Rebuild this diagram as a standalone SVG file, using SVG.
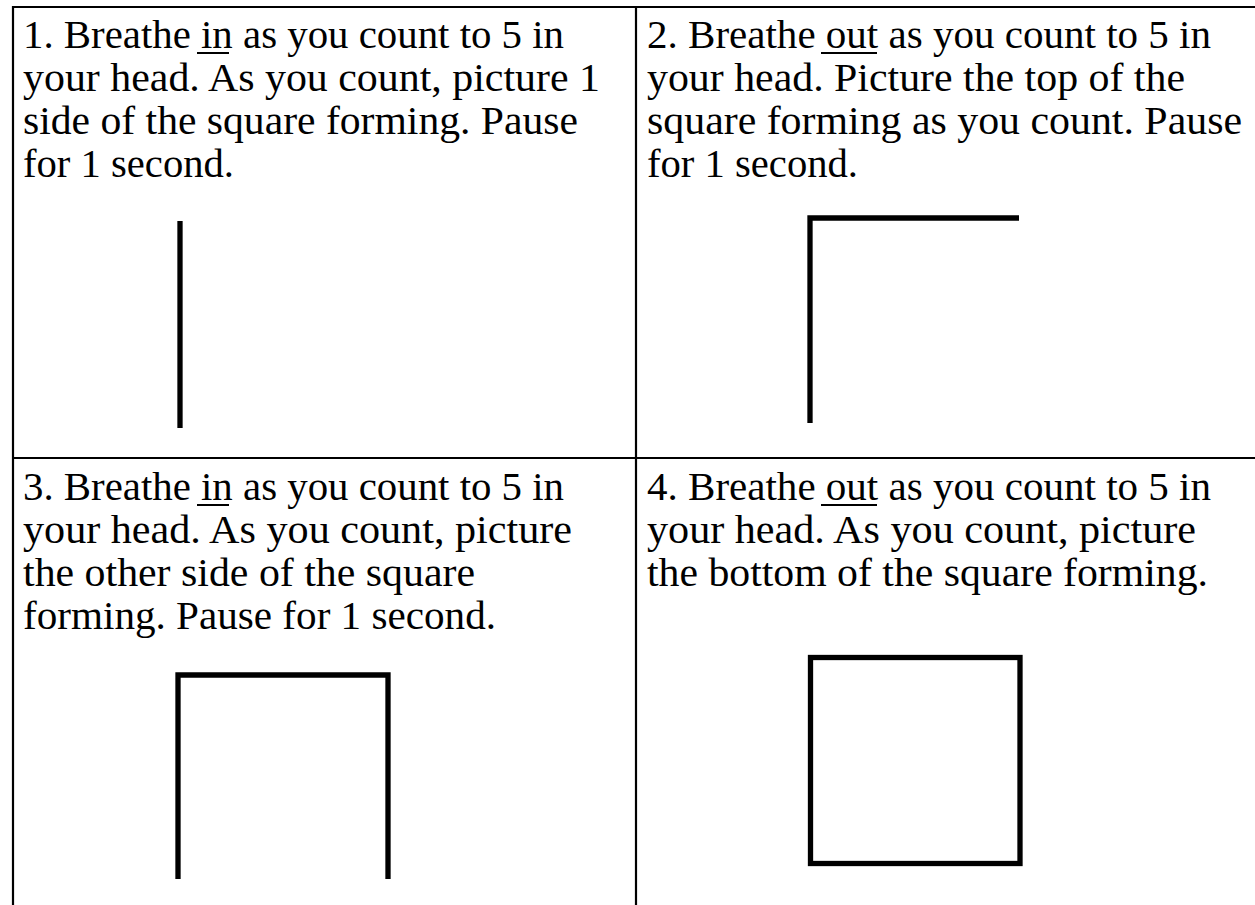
<svg xmlns="http://www.w3.org/2000/svg" width="1255" height="905" viewBox="0 0 1255 905">
<style>
.t{font-family:"Liberation Serif","Times New Roman",serif;font-size:39px;fill:#000}
.grid{stroke:#000;stroke-width:2.2;fill:none}
.ul{stroke:#000;stroke-width:2}
.fig{stroke:#000;stroke-width:5.3;fill:none;stroke-linecap:butt;stroke-linejoin:miter}
</style>
<rect width="1255" height="905" fill="#fff"/>
<g id="table">
<path class="grid" d="M13,905 V7 H1255 M636,7 V905 M13,458 H1255"/>
</g>
<g id="step1">
<text class="t" lengthAdjust="spacingAndGlyphs" x="23" y="48" textLength="541">1. Breathe in as you count to 5 in</text>
<text class="t" lengthAdjust="spacingAndGlyphs" x="23" y="91" textLength="577">your head. As you count, picture 1</text>
<text class="t" lengthAdjust="spacingAndGlyphs" x="23" y="134" textLength="555">side of the square forming. Pause</text>
<text class="t" lengthAdjust="spacingAndGlyphs" x="23" y="177" textLength="211">for 1 second.</text>
<line class="ul" x1="197" y1="53" x2="229" y2="53"/>
<line class="fig" x1="180" y1="221" x2="180" y2="428"/>
</g>
<g id="step2">
<text class="t" lengthAdjust="spacingAndGlyphs" x="647" y="48" textLength="564">2. Breathe out as you count to 5 in</text>
<text class="t" lengthAdjust="spacingAndGlyphs" x="647" y="91" textLength="538">your head. Picture the top of the</text>
<text class="t" lengthAdjust="spacingAndGlyphs" x="647" y="134" textLength="595">square forming as you count. Pause</text>
<text class="t" lengthAdjust="spacingAndGlyphs" x="647" y="177" textLength="211">for 1 second.</text>
<line class="ul" x1="821" y1="53" x2="877" y2="53"/>
<path class="fig" d="M810,423 V218 H1019"/>
</g>
<g id="step3">
<text class="t" lengthAdjust="spacingAndGlyphs" x="23" y="500" textLength="541">3. Breathe in as you count to 5 in</text>
<text class="t" lengthAdjust="spacingAndGlyphs" x="23" y="543" textLength="549">your head. As you count, picture</text>
<text class="t" lengthAdjust="spacingAndGlyphs" x="23" y="586" textLength="452">the other side of the square</text>
<text class="t" lengthAdjust="spacingAndGlyphs" x="23" y="629" textLength="473">forming. Pause for 1 second.</text>
<line class="ul" x1="197" y1="505" x2="229" y2="505"/>
<path class="fig" d="M178,879 V675 H388 V879"/>
</g>
<g id="step4">
<text class="t" lengthAdjust="spacingAndGlyphs" x="647" y="500" textLength="564">4. Breathe out as you count to 5 in</text>
<text class="t" lengthAdjust="spacingAndGlyphs" x="647" y="543" textLength="549">your head. As you count, picture</text>
<text class="t" lengthAdjust="spacingAndGlyphs" x="647" y="586" textLength="561">the bottom of the square forming.</text>
<line class="ul" x1="821" y1="505" x2="877" y2="505"/>
<rect class="fig" x="810.5" y="657.5" width="209.5" height="206"/>
</g>
<g id="connectors"/>
</svg>
